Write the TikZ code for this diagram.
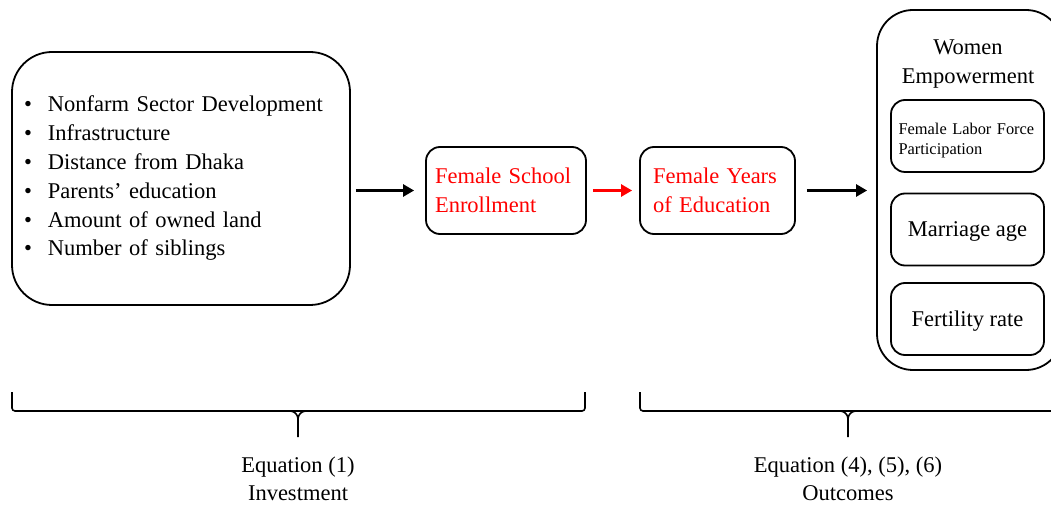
\documentclass[tikz,border=0pt]{standalone}
\usepackage{fontspec}
\setmainfont{Liberation Serif}
\usepackage{tikz}
\usetikzlibrary{arrows.meta, positioning}
\tikzset{
  Arrow1/.style = {
    draw,
    line width = 2.6pt,
    -{Triangle[length = 11pt, width = 12pt]},
  },
  Box1/.style = {
    draw,
    line width = 1.8pt,
    rounded corners = 14pt,
    inner sep = 0pt,
  },
  Brace1/.style = {
    draw,
    line width = 1.6pt,
    rounded corners = 3pt,
  }
}

\begin{document}
\begin{tikzpicture}[x=1pt, y=-1pt, font=\fontsize{22.5}{28.8}\selectfont]
      \useasboundingbox (0,0) rectangle (1051,510);
      \clip (0,0) rectangle (1051,510);
      \draw
        (181,178.5)node[Box1, rounded corners=40pt, minimum width=338pt, minimum height=253pt,
          text width=314pt, align=left](box1){%
          \textbullet\hspace{16pt}Nonfarm Sector Development\\
          \textbullet\hspace{16pt}Infrastructure\\
          \textbullet\hspace{16pt}Distance from Dhaka\\
          \textbullet\hspace{16pt}Parents' education\\
          \textbullet\hspace{16pt}Amount of owned land\\
          \textbullet\hspace{16pt}Number of siblings}
        (506,190.5)node[Box1, minimum width=160pt, minimum height=87pt, text width=142pt,
          align=left, text=red](box2){Female School\\Enrollment}
        (717.5,190.5)node[Box1, minimum width=155pt, minimum height=87pt, text width=129pt,
          align=left, text=red](box3){Female Years\\of Education}
        (969.5,190)node[Box1, rounded corners=36pt, minimum width=185pt, minimum height=360pt](box4){}
        (968,64)node[align=center](title){Women\\Empowerment}
        (967.5,136)node[Box1, minimum width=153pt, minimum height=72pt](out1){}
        (967.5,141)node[text width=138pt, align=left, inner sep=0pt,
          font=\fontsize{16.4}{20}\selectfont](out1text){Female Labor Force\\Participation}
        (967.5,229.5)node[Box1, minimum width=153pt, minimum height=72pt, text depth=0pt](out2){Marriage age}
        (967.5,319)node[Box1, minimum width=153pt, minimum height=72pt, text depth=0pt](out3){Fertility rate};
      \draw([xshift=5pt]box1.east |- box2.west)[Arrow1] -- ([xshift=-11pt]box2.west);
      \draw([xshift=6pt]box2.east)[Arrow1, red] -- ([xshift=-7pt]box3.west);
      \draw([xshift=11pt]box3.east)[Arrow1] -- ([xshift=-9pt]box4.west |- box3.east);
      % braces
      \draw[Brace1] (12,392) -- (12,411) -- (585,411) -- (585,392);
      \draw[Brace1, rounded corners=0pt] (290,411) to[out=0, in=90] (298,419) -- (298,437)
        (306,411) to[out=180, in=90] (298,419);
      \draw[Brace1] (640,392) -- (640,411) -- (1060,411);
      \draw[Brace1, rounded corners=0pt] (840,411) to[out=0, in=90] (848,419) -- (848,437)
        (856,411) to[out=180, in=90] (848,419);
      \node[align=center, font=\fontsize{22.5}{28}\selectfont](eq1) at (298,479){Equation (1)\\Investment};
      \node[align=center, font=\fontsize{22.5}{28}\selectfont](eq2) at (848,479){Equation (4), (5), (6)\\Outcomes};
    \end{tikzpicture}
\end{document}
